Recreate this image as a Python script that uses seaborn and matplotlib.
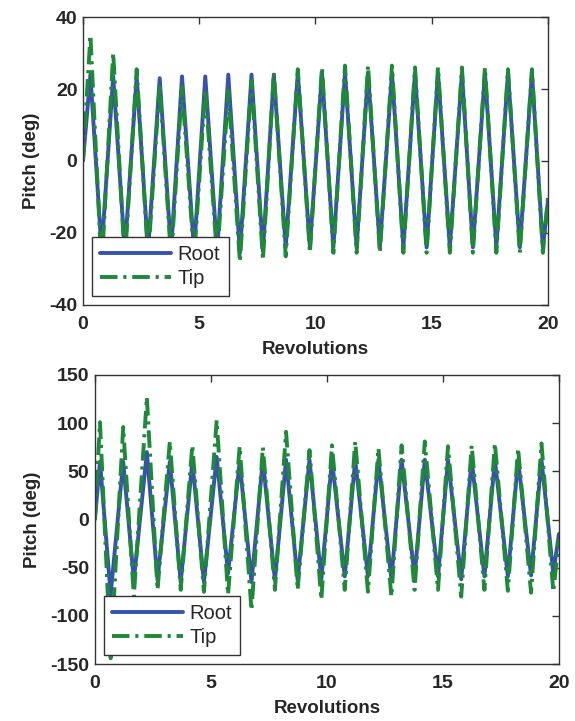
import numpy as np
import pandas as pd
import matplotlib
matplotlib.use("Agg")
import matplotlib.pyplot as plt
import seaborn as sns
from matplotlib.lines import Line2D

# ---------------- data ----------------
# Top panel: extremes per revolution
top_peak_rev = [0.32, 1.30, 2.31, 3.30, 4.26, 5.26, 6.25, 7.25, 8.21, 9.24,
                10.28, 11.27, 12.26, 13.29, 14.28, 15.27, 16.30, 17.29, 18.28, 19.31]
top_trough_rev = [0.80, 1.80, 2.80, 3.79, 4.78, 5.77, 6.75, 7.74, 8.72, 9.76,
                  10.77, 11.77, 12.77, 13.78, 14.78, 15.78, 16.77, 17.78, 18.79, 19.78]
top_root_peak = [24, 23.5, 23.5, 23, 23.5, 23.5, 24, 24, 24, 24.5,
                 24.5, 24.5, 24.5, 24.5, 24.5, 24.5, 24.5, 24.5, 24.5, 24.5]
top_root_trough = [-25, -25, -25, -25, -25, -25, -25.5, -25, -24, -24,
                   -24, -24, -24, -24, -24, -24, -24, -24, -24, -24]
top_tip_peak = [35, 30, 25.5, 21.5, 20.5, 20, 19.5, 22.5, 24.5, 25.5,
                26, 26.5, 26.5, 26.5, 26, 26, 26, 26, 25.5, 25.5]
top_tip_trough = [-30, -28, -27, -27, -27, -27, -28, -27.5, -26.5, -25.5,
                  -25.5, -25.5, -25.5, -25.5, -25.5, -25.5, -25.5, -25.5, -25.5, -25.5]
top_start = {"Root": 0.0, "Tip": 0.0}
top_end = {"Root": -11.0, "Tip": -10.0}

# Bottom panel: extremes per revolution
bot_peak_rev = [0.22, 1.22, 2.24, 3.23, 4.20, 5.25, 6.24, 7.24, 8.24, 9.25,
                10.22, 11.22, 12.22, 13.22, 14.22, 15.22, 16.24, 17.24, 18.24, 19.25]
bot_trough_rev = [0.68, 1.68, 2.70, 3.70, 4.70, 5.74, 6.75, 7.76, 8.74, 9.76,
                  10.77, 11.77, 12.78, 13.78, 14.79, 15.79, 16.79, 17.80, 18.80, 19.76]
bot_root_peak = [60, 60, 70, 60, 60, 65, 60, 62, 62, 62,
                 62, 62, 62, 62, 62, 62, 62, 62, 62, 62]
bot_root_trough = [-78, -63, -63, -65, -65, -56, -65, -63, -63, -62,
                   -59, -59, -62, -59, -59, -62, -59, -59, -58, -56]
bot_tip_peak = [101, 96, 127, 81, 77, 103, 76, 75, 91, 72,
                77, 81, 74, 77, 81, 76, 77, 79, 74, 79]
bot_tip_trough = [-144, -80, -73, -73, -75, -78, -94, -73, -73, -83,
                  -73, -75, -80, -73, -73, -80, -73, -74, -76, -75]
bot_start = {"Root": 0.0, "Tip": 0.0}
bot_end = {"Root": -15.0, "Tip": -20.0}

x_ticks = [0, 5, 10, 15, 20]
top_y_ticks = [-40, -20, 0, 20, 40]
bot_y_ticks = [-150, -100, -50, 0, 50, 100, 150]


def build(peak_rev, trough_rev, peaks, troughs, start, end):
    revs, vals = [0.0], [start]
    for pr, tr, p, t in zip(peak_rev, trough_rev, peaks, troughs):
        revs += [pr, tr]
        vals += [p, t]
    revs.append(20.0)
    vals.append(end)
    return revs, vals


def panel_df(peak_rev, trough_rev, rp, rt, tp, tt, start, end):
    frames = []
    for name, p, t in (("Root", rp, rt), ("Tip", tp, tt)):
        r, v = build(peak_rev, trough_rev, p, t, start[name], end[name])
        frames.append(pd.DataFrame({"rev": r, "pitch": v, "series": name}))
    return pd.concat(frames, ignore_index=True)


df_top = panel_df(top_peak_rev, top_trough_rev, top_root_peak, top_root_trough,
                  top_tip_peak, top_tip_trough, top_start, top_end)
df_bot = panel_df(bot_peak_rev, bot_trough_rev, bot_root_peak, bot_root_trough,
                  bot_tip_peak, bot_tip_trough, bot_start, bot_end)

# ---------------- style ----------------
sns.set_theme(style="white")
plt.rcParams["font.family"] = ["Liberation Sans", "DejaVu Sans"]
plt.rcParams["axes.edgecolor"] = "#333333"
plt.rcParams["axes.linewidth"] = 1.0
plt.rcParams["axes.unicode_minus"] = False

ROOT_C = "#3652b0"
TIP_C = "#1d8a3a"
LW = 2.8
DASH = (0, (4.5, 1.5, 0.8, 1.5))

fig = plt.figure(figsize=(5.75, 7.21), dpi=100)
ax1 = fig.add_axes([0.1443, 0.577, 0.953 - 0.1443, 0.9764 - 0.577])
ax2 = fig.add_axes([0.165, 0.079, 0.972 - 0.165, 0.4799 - 0.079])


def draw(ax, df, yticks, ylim):
    sns.lineplot(data=df[df.series == "Root"], x="rev", y="pitch", ax=ax,
                 color=ROOT_C, lw=LW, sort=False, estimator=None, legend=False)
    sns.lineplot(data=df[df.series == "Tip"], x="rev", y="pitch", ax=ax,
                 color=TIP_C, lw=LW, sort=False, estimator=None, legend=False,
                 linestyle=DASH)
    ax.set_xlim(0, 20)
    ax.set_ylim(*ylim)
    ax.set_xticks(x_ticks)
    ax.set_yticks(yticks)
    ax.tick_params(direction="in", top=True, right=True, length=5, width=1,
                   labelsize=14, color="#333333")
    ax.tick_params(axis="x", pad=8)
    ax.tick_params(axis="y", pad=4)
    for lab in ax.get_xticklabels() + ax.get_yticklabels():
        lab.set_fontweight("bold")
    ax.set_xlabel("Revolutions", fontsize=13.5, fontweight="bold", labelpad=6)
    ax.set_ylabel("Pitch (deg)", fontsize=13.5, fontweight="bold", labelpad=7)
    handles = [Line2D([], [], color=ROOT_C, lw=LW),
               Line2D([], [], color=TIP_C, lw=LW, linestyle=DASH)]
    leg = ax.legend(handles, ["Root", "Tip"], loc="lower left",
                    bbox_to_anchor=(0.02, 0.03), fontsize=14.5, frameon=True,
                    fancybox=False, framealpha=1, edgecolor="#333333",
                    handlelength=3.5, handletextpad=0.35, borderpad=0.4,
                    labelspacing=0.25, borderaxespad=0)
    leg.get_frame().set_linewidth(1.0)
    leg.set_zorder(10)


draw(ax1, df_top, top_y_ticks, (-40, 40))
draw(ax2, df_bot, bot_y_ticks, (-150, 150))

fig.savefig("out.png", dpi=100)
